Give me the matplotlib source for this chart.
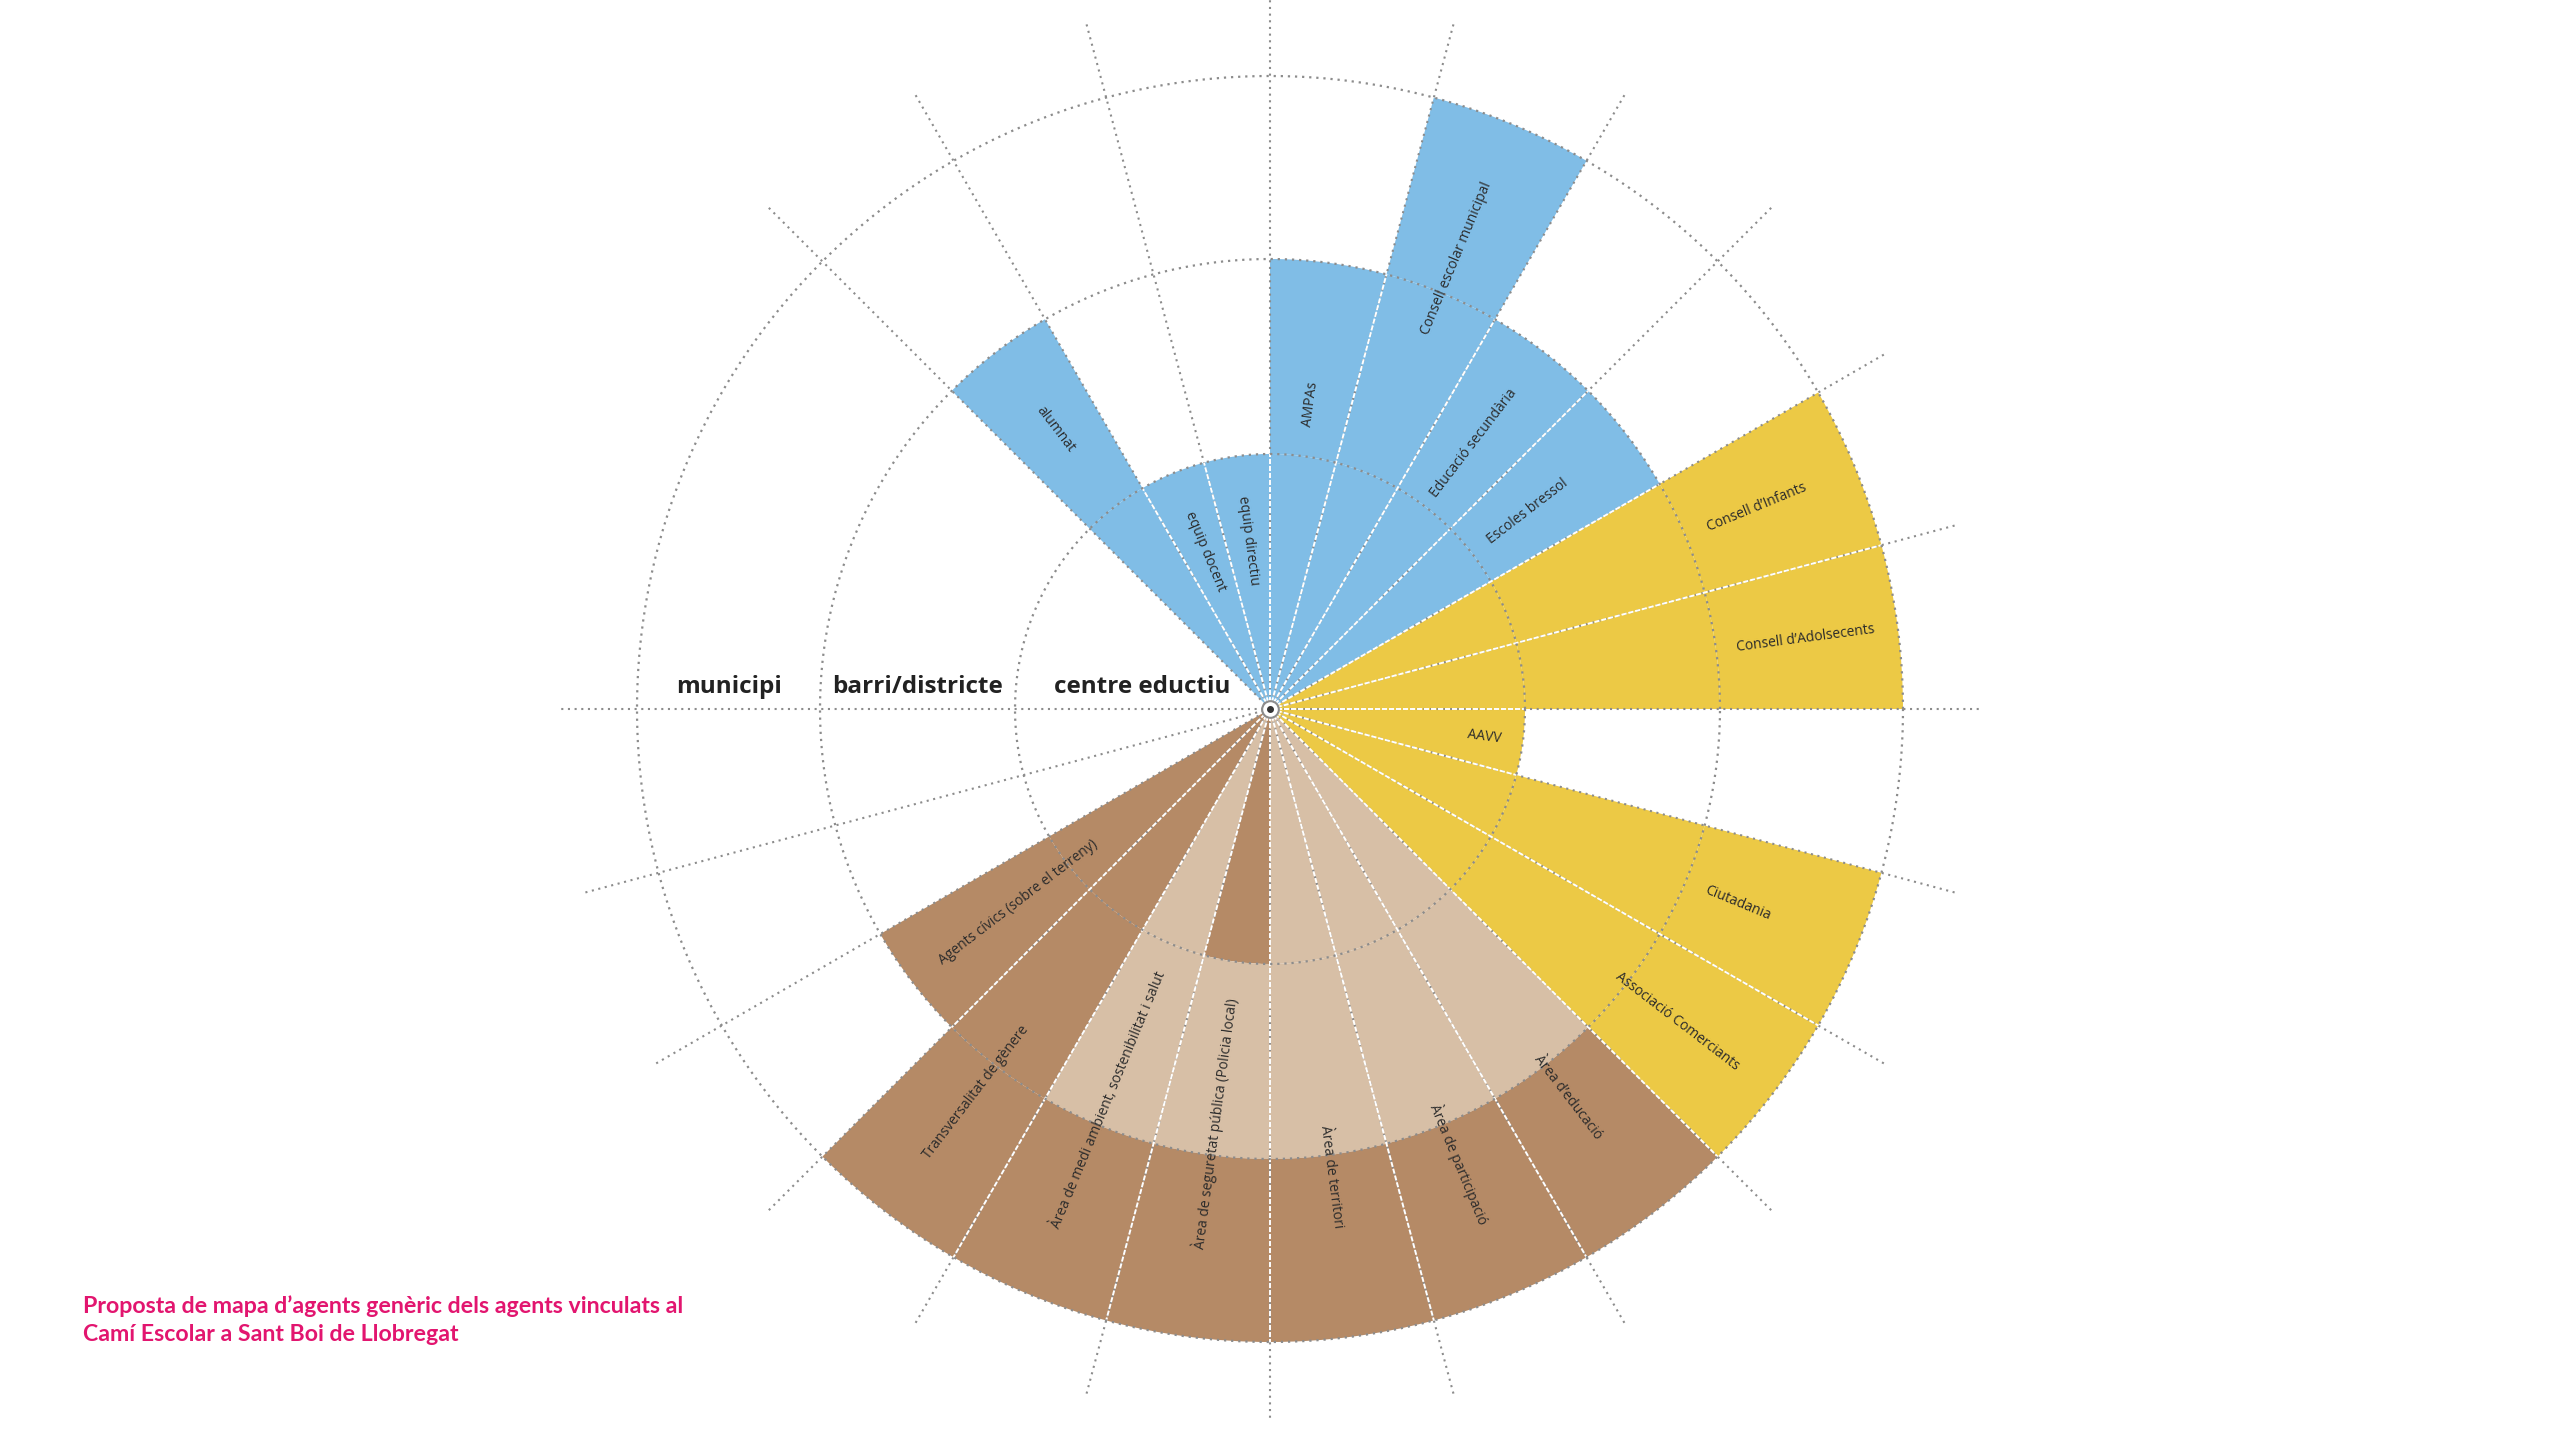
import numpy as np
import matplotlib
matplotlib.use("Agg")
import matplotlib.pyplot as plt

# Agents around the circle, one slot every 15 degrees starting at 0 (east),
# going counter-clockwise. None = empty slot.
agents = [
    "Consell d’Adolsecents", "Consell d’Infants", "Escoles bressol",
    "Educació secundària", "Consell escolar municipal", "AMPAs",
    "equip directiu", "equip docent", "alumnat",
    None, None, None, None, None,
    "Agents cívics (sobre el terreny)", "Transversalitat de gènere",
    "Àrea de medi ambient, sostenibilitat i salut",
    "Àrea de seguretat pública (Policia local)",
    "Àrea de territori", "Àrea de participació", "Àrea d’educació",
    "Associació Comerciants", "Ciutadania", "AAVV",
]

# Colour code of each ring band (centre eductiu, barri/districte, municipi)
# Y = entitats, B = escola, D = ajuntament, L = ajuntament (suport)
bands = [
    "YYY", "YYY", "BB", "BB", "BBB", "BB", "B", "B", "BB",
    "", "", "", "", "",
    "DD", "DDD", "LLD", "DLD", "LLD", "LLD", "LLD",
    "YYY", "YYY", "Y",
]

ring_names = ["centre eductiu", "barri/districte", "municipi"]

title = ("Proposta de mapa d’agents genèric dels agents vinculats al\n"
         "Camí Escolar a Sant Boi de Llobregat")

# ---- style / layout ----
colors = {"Y": "#ECC945", "B": "#80BDE6", "D": "#B58A66", "L": "#D7BFA6"}
ring_r = [0, 255, 450, 633]
spoke_len = 712
slot_deg = 15
no_spoke = {150, 165}
label_r = [540, 527, 325, 335, 488, 307, 170, 170, 353,
           0, 0, 0, 0, 0,
           318, 483, 423, 418, 472, 493, 490, 513, 506, 216]
grey = "#8c8c8c"
dot = (0, (1, 2.2))

fig = plt.figure(figsize=(25.6, 14.4), dpi=100)
ax = fig.add_axes([(1270 - 715) / 2560, (1440 - 709 - 715) / 1440,
                   1430 / 2560, 1430 / 1440], projection="polar")
ax.set_rlim(0, 715)
ax.grid(False)
ax.set_xticks([])
ax.set_yticks([])
ax.spines["polar"].set_visible(False)
ax.patch.set_alpha(0)

width = np.radians(slot_deg)

# wedges
for i, b in enumerate(bands):
    th = np.radians(i * slot_deg + slot_deg / 2)
    for j, c in enumerate(b):
        ax.bar(th, ring_r[j + 1] - ring_r[j], width=width, bottom=ring_r[j],
               color=colors[c], linewidth=0, zorder=1, align="center")

# grey dotted spokes
for a in range(0, 360, slot_deg):
    if a in no_spoke:
        continue
    ax.plot([np.radians(a)] * 2, [0, spoke_len], color=grey, lw=1.5,
            linestyle=dot, zorder=2)

# white separators between neighbouring wedges
heights = [ring_r[len(b)] for b in bands]
n = len(bands)
for k in range(n):
    h = min(heights[k - 1], heights[k])
    if h > 0:
        ax.plot([np.radians(k * slot_deg)] * 2, [0, h], color="white",
                lw=1.4, linestyle=(0, (2.6, 1.0)), zorder=3)

# rings
t = np.linspace(0, 2 * np.pi, 721)
for r in ring_r[1:]:
    ax.plot(t, np.full_like(t, r), color=grey, lw=1.6, linestyle=dot, zorder=4)

# centre mark
ax.plot([0], [0], marker="o", ms=12, mfc="white", mec=grey, mew=1.5, zorder=6)
ax.plot([0], [0], marker="o", ms=4, color="#333333", zorder=7)

# agent labels
for i, name in enumerate(agents):
    if name is None:
        continue
    a = i * slot_deg + slot_deg / 2
    rot = a - 180 if 90 < a < 270 else a
    ax.text(np.radians(a), label_r[i], name, rotation=rot,
            rotation_mode="anchor", ha="center", va="center",
            fontsize=10, family="Open Sans", color="#2b2b2b", zorder=8)

# ring names on the left horizontal
for j, name in enumerate(ring_names):
    rm = (ring_r[j] + ring_r[j + 1]) / 2
    ax.annotate(name, xy=(np.pi, rm), xytext=(0, 16),
                textcoords="offset points", ha="center", va="center",
                fontsize=17.5, fontweight="bold", family="Open Sans",
                color="#222222", zorder=8)

fig.text(83 / 2560, 1 - 1320 / 1440, title, ha="left", va="center",
         fontsize=16.7, fontweight="bold", family="Lato", color="#E2156F",
         linespacing=1.42)

fig.savefig("out.png", dpi=100, facecolor="white")
